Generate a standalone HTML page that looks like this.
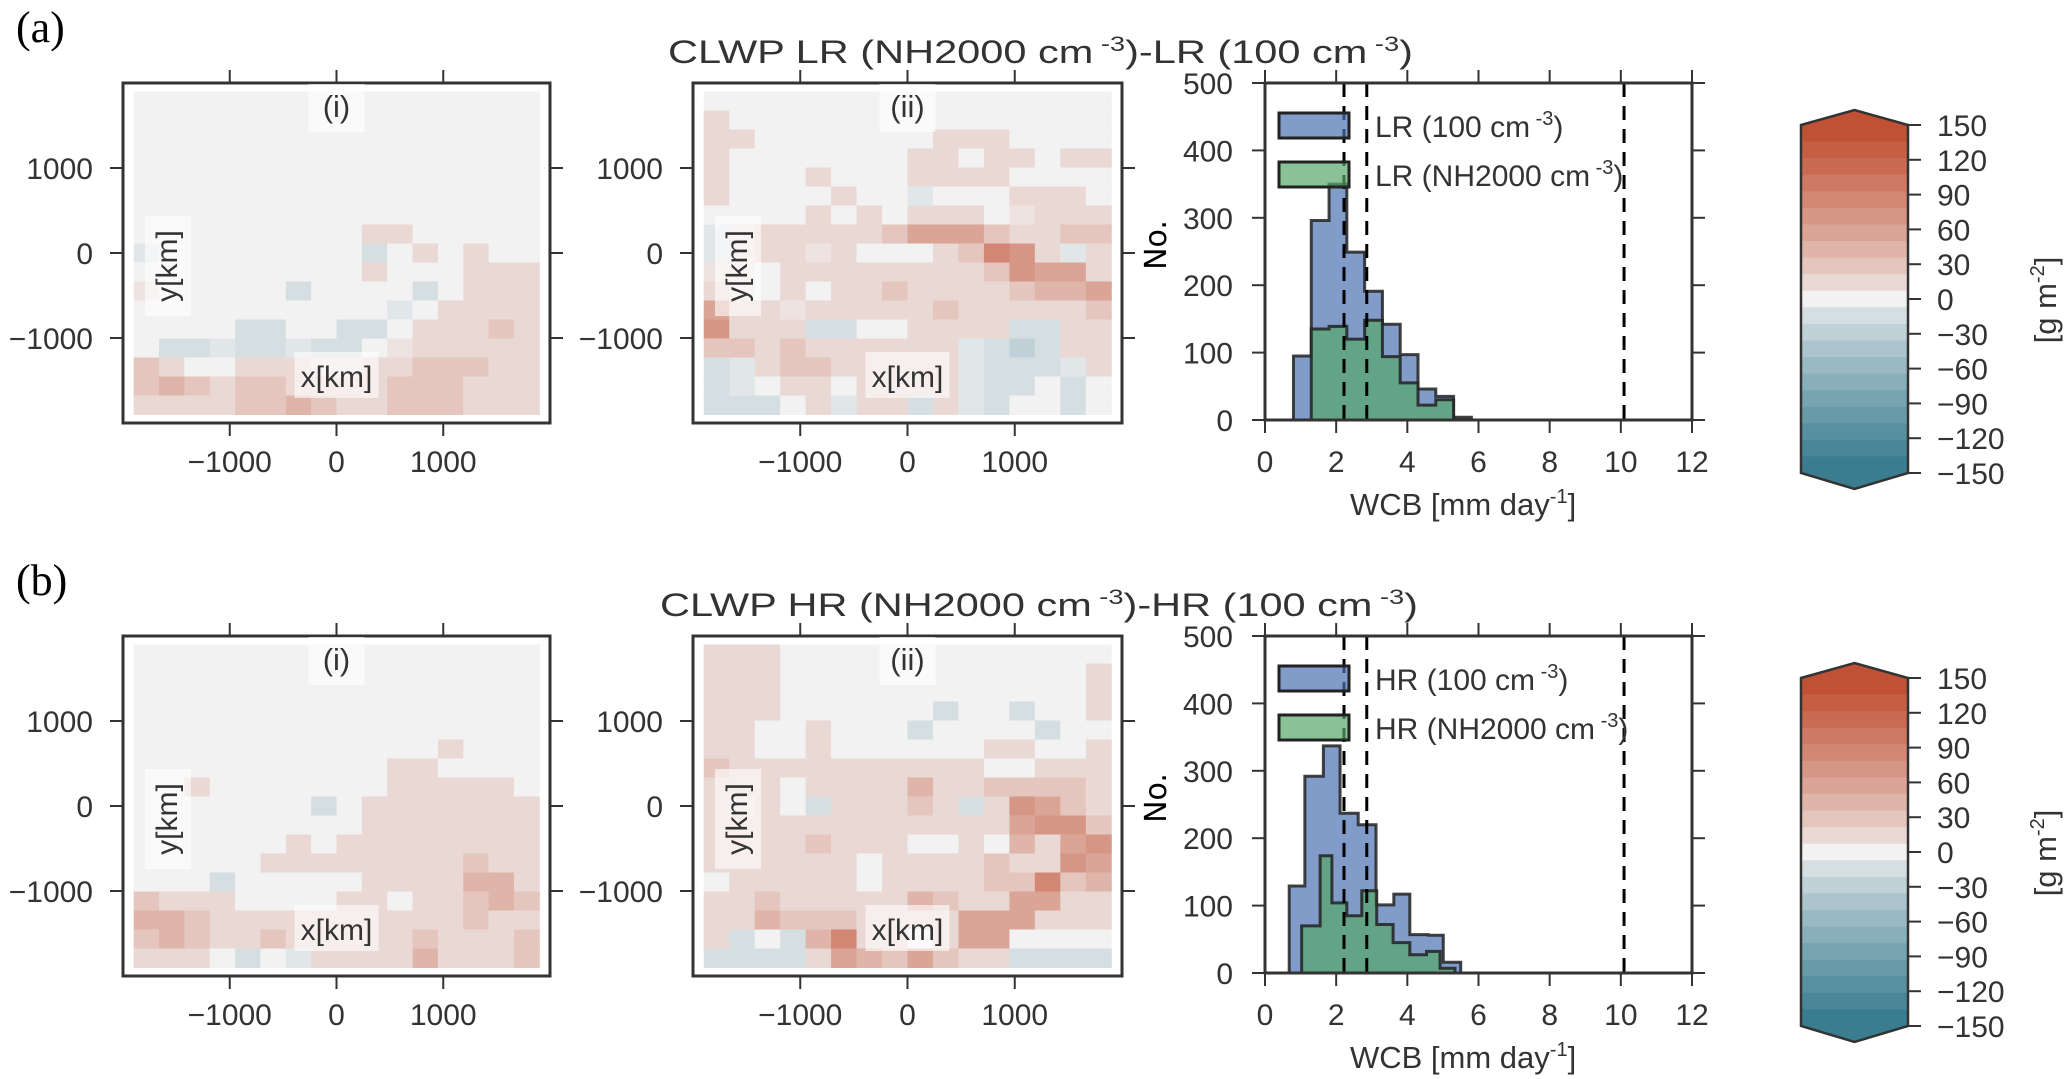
<!DOCTYPE html>
<html><head><meta charset="utf-8"><style>
html,body{margin:0;padding:0;background:#fff;}
svg{display:block;font-family:"Liberation Sans",sans-serif;}
</style></head><body>
<svg id="fig" width="2067" height="1079" viewBox="0 0 2067 1079" xmlns="http://www.w3.org/2000/svg">
<text x="16" y="42" font-family="Liberation Serif" font-size="44" fill="#000">(a)</text>
<text x="16" y="595" font-family="Liberation Serif" font-size="44" fill="#000">(b)</text>
<text x="668" y="63" font-size="32" fill="#333" textLength="745" lengthAdjust="spacingAndGlyphs">CLWP LR (NH2000 cm<tspan font-size="21" dy="-12"> -3</tspan><tspan dy="12">)-LR (100 cm</tspan><tspan font-size="21" dy="-12"> -3</tspan><tspan dy="12">)</tspan></text>
<text x="660" y="616" font-size="32" fill="#333" textLength="758" lengthAdjust="spacingAndGlyphs">CLWP HR (NH2000 cm<tspan font-size="21" dy="-12"> -3</tspan><tspan dy="12">)-HR (100 cm</tspan><tspan font-size="21" dy="-12"> -3</tspan><tspan dy="12">)</tspan></text>
</svg>
<script>
// ---------- data ----------
const mapTicks = [-1000, 0, 1000];
const histXTicks = [0, 2, 4, 6, 8, 10, 12];
const histYTicks = [0, 100, 200, 300, 400, 500];
const cbarTicks = [150, 120, 90, 60, 30, 0, -30, -60, -90, -120, -150];
const dashLines = [0, 2.22, 2.86, 10.09];

const mapAi = [
[0,0,0,0,0,0,0,0,0,0,0,0,0,0,0,0],
[0,0,0,0,0,0,0,0,0,0,0,0,0,0,0,0],
[0,0,0,0,0,0,0,0,0,0,0,0,0,0,0,0],
[0,0,0,0,0,0,0,0,0,0,0,0,0,0,0,0],
[0,0,0,0,0,0,0,0,0,0,0,0,0,0,0,0],
[0,0,0,0,0,0,0,0,0,0,0,0,0,0,0,0],
[0,0,0,0,0,0,0,0,0,0,0,0,0,0,0,0],
[0,0,0,0,0,0,0,0,0,10,10,0,0,0,0,0],
[-5,0,0,0,0,0,0,0,0,-8,0,10,0,8,0,0],
[0,0,0,0,0,0,0,0,0,10,0,0,0,10,10,10],
[5,0,0,0,0,0,-8,0,0,0,0,-8,0,10,20,20],
[0,0,0,0,0,0,0,0,0,0,-5,0,10,20,20,20],
[0,0,0,0,-8,-8,0,0,-8,-8,0,10,10,15,30,20],
[0,-8,-8,-5,-8,-8,-5,-15,-15,0,5,10,10,15,20,20],
[25,10,0,0,10,10,10,5,5,10,15,25,25,25,10,10],
[30,40,30,20,25,25,15,10,10,20,30,30,30,20,20,10],
[20,20,20,20,30,30,45,30,20,20,35,35,35,20,20,10]];
const mapAii = [
[0,0,0,0,0,0,0,0,0,0,0,0,0,0,0,0],
[10,0,0,0,0,0,0,0,0,0,0,0,0,0,0,0],
[10,10,0,0,0,0,0,0,0,8,8,8,0,0,0,0],
[10,0,0,0,0,0,0,0,8,8,0,8,8,0,10,10],
[10,0,0,0,10,0,0,0,8,8,8,8,0,0,0,0],
[8,0,0,0,0,10,0,0,-5,0,0,0,8,8,8,0],
[0,0,0,0,10,0,10,0,10,20,10,0,5,8,8,8],
[-5,5,10,10,10,10,20,25,50,50,60,30,15,15,25,25],
[-5,5,10,10,5,10,0,0,0,10,30,80,70,10,-5,8],
[5,5,0,10,10,10,10,10,10,10,10,30,70,50,50,20],
[10,5,0,10,0,10,20,25,10,10,10,10,30,40,40,50],
[60,10,10,5,10,10,10,10,10,25,10,10,15,15,15,25],
[70,20,10,10,-8,-8,0,0,10,15,10,10,-10,-8,15,20],
[25,35,20,30,20,20,10,10,10,15,-5,-8,-30,-15,10,15],
[-8,-5,20,35,25,10,10,10,10,15,-5,-8,-20,-8,-5,10],
[-8,-5,0,10,10,0,10,8,8,15,-5,-8,-8,0,-8,0],
[-8,-8,-8,0,10,-5,10,10,-8,10,-5,-8,0,0,-8,0]];
const mapBi = [
[0,0,0,0,0,0,0,0,0,0,0,0,0,0,0,0],
[0,0,0,0,0,0,0,0,0,0,0,0,0,0,0,0],
[0,0,0,0,0,0,0,0,0,0,0,0,0,0,0,0],
[0,0,0,0,0,0,0,0,0,0,0,0,0,0,0,0],
[0,0,0,0,0,0,0,0,0,0,0,0,0,0,0,0],
[0,0,0,0,0,0,0,0,0,0,0,0,10,0,0,0],
[0,0,0,0,0,0,0,0,0,0,8,8,0,0,0,0],
[0,0,10,0,0,0,0,0,0,0,8,8,8,8,8,0],
[0,0,0,0,0,0,0,-8,0,8,8,8,8,8,8,8],
[0,0,0,0,0,0,0,0,0,8,8,8,8,8,15,15],
[0,0,0,0,0,0,8,0,8,8,15,15,15,8,15,10],
[0,0,0,0,0,8,8,8,8,8,15,8,15,30,15,10],
[0,0,0,-8,0,0,0,0,0,8,10,15,20,40,40,20],
[30,20,20,10,0,0,0,0,10,10,0,20,20,30,40,30],
[40,40,25,15,15,15,10,10,10,10,15,20,20,30,20,15],
[25,40,25,10,10,25,10,10,10,10,15,25,20,20,8,30],
[20,20,10,0,-8,0,-5,10,15,15,15,45,20,10,10,25]];
const mapBii = [
[10,10,10,0,0,0,0,0,0,0,0,0,0,0,0,0],
[10,10,10,0,0,0,0,0,0,0,0,0,0,0,0,10],
[10,15,10,0,0,0,0,0,0,0,0,0,0,0,0,10],
[15,15,10,0,0,0,0,0,0,-8,0,0,-8,0,0,8],
[15,15,0,0,10,0,0,0,-8,0,0,0,0,-8,0,0],
[15,10,0,0,10,0,0,0,0,0,0,10,10,0,0,10],
[25,10,10,10,10,10,10,10,20,20,10,0,0,10,10,15],
[20,10,10,0,10,15,15,15,40,20,10,30,30,25,25,15],
[10,5,10,0,-8,10,15,15,30,20,-8,10,70,50,25,20],
[10,10,15,15,15,10,10,15,15,10,10,10,50,70,70,35],
[10,10,20,15,25,15,10,15,0,0,15,0,40,20,50,70],
[10,10,20,20,15,10,0,10,10,15,20,30,8,20,70,50],
[0,15,15,15,10,10,0,15,20,15,10,25,30,85,30,40],
[10,20,35,10,10,15,15,20,45,30,15,20,50,50,20,15],
[15,20,40,25,25,25,20,20,20,15,55,55,60,10,20,15],
[10,-8,0,-8,40,80,20,20,0,15,60,60,0,0,0,0],
[-20,-8,-8,-8,20,60,45,30,60,30,20,20,-8,-8,-8,-20]];

const histAEdgesBlue = [0.8,1.3,1.8,2.3,2.8,3.3,3.8,4.3,4.8,5.3,5.8];
const histACountBlue = [95,296,350,249,191,142,97,46,35,4];
const histAEdgesGreen = [1.3,1.8,2.3,2.8,3.3,3.8,4.3,4.8,5.3];
const histACountGreen = [135,139,120,148,94,55,22,30];
const histBEdgesBlue = [0.68,1.12,1.64,2.11,2.62,3.12,3.62,4.07,4.59,5.01,5.5];
const histBCountBlue = [129,292,337,237,220,101,117,57,56,16];
const histBEdgesGreen = [1.03,1.55,1.88,2.3,2.72,3.14,3.6,4.07,4.54,4.92,5.34];
const histBCountGreen = [70,174,104,85,122,72,45,27,32,7];

// ---------- helpers ----------
const NS = "http://www.w3.org/2000/svg";
const svg = document.getElementById('fig');
function mk(tag, attrs, parent) {
  const e = document.createElementNS(NS, tag);
  for (const k in attrs) e.setAttribute(k, attrs[k]);
  (parent || svg).appendChild(e);
  return e;
}
const RED = [193, 81, 52], MID = [242, 242, 242], BLUE = [59, 125, 144];
const NB = 21, BW = 300 / NB;
function bandColor(idx) {
  const t = Math.min(1, Math.abs(idx) / 10);
  const end = idx >= 0 ? RED : BLUE;
  const c = MID.map((m, i) => Math.round(m + (end[i] - m) * Math.pow(t, 0.8)));
  return `rgb(${c[0]},${c[1]},${c[2]})`;
}
function valColor(v) {
  let idx = Math.round(v / BW);
  idx = Math.max(-10, Math.min(10, idx));
  if (v > 4 && idx === 0) idx = 0.5;
  if (v < -4 && idx === 0) idx = -0.5;
  return bandColor(idx);
}
const DARK = '#333';

function heatmap(data, x0, x1, y0, y1, oy, name, label) {
  const g = mk('g', {});
  
  
  const cx = (x0 + x1) / 2, cy = 253 + oy;
  const sx = (x1 - x0) / 4000, sy = (y1 - y0) / 4000;
  const X = km => cx + km * sx, Y = km => cy - km * sy;
  const rows = data.length, cols = data[0].length;
  const cw = 3800 / cols, ch = 3800 / rows;
  for (let r = 0; r < rows; r++) for (let c = 0; c < cols; c++) {
    const kx = -1900 + c * cw, ky = 1900 - r * ch;
    const rc = mk('rect', {x: X(kx), y: Y(ky), width: X(kx + cw) - X(kx) + 0.5, height: Y(ky - ch) - Y(ky) + 0.5, fill: valColor(data[r][c])}, g);
    
    
  }
  const fr = mk('rect', {x: x0, y: y0 + oy, width: x1 - x0, height: y1 - y0, fill: 'none', stroke: DARK, 'stroke-width': 3}, g);
  
  
  mapTicks.forEach(t => {
    mk('line', {x1: X(t), x2: X(t), y1: y0 + oy, y2: y0 + oy - 13, stroke: DARK, 'stroke-width': 2}, g);
    mk('line', {x1: X(t), x2: X(t), y1: y1 + oy, y2: y1 + oy + 13, stroke: DARK, 'stroke-width': 2}, g);
    mk('line', {x1: x0, x2: x0 - 13, y1: Y(t), y2: Y(t), stroke: DARK, 'stroke-width': 2}, g);
    mk('line', {x1: x1, x2: x1 + 13, y1: Y(t), y2: Y(t), stroke: DARK, 'stroke-width': 2}, g);
    const xl = mk('text', {x: X(t), y: 472 + oy, 'font-size': 30, fill: DARK, 'text-anchor': 'middle'}, g);
    xl.textContent = t === 0 ? '0' : (t < 0 ? '\u2212' + Math.abs(t) : String(t));
    
    
    const yl = mk('text', {x: x0 - 30, y: Y(t) + 11, 'font-size': 30, fill: DARK, 'text-anchor': 'end'}, g);
    yl.textContent = t === 0 ? '0' : (t < 0 ? '\u2212' + Math.abs(t) : String(t));
    
    
  });
  mk('rect', {x: cx - 28, y: 84 + oy, width: 56, height: 48, fill: '#fff', opacity: 0.6}, g);
  const sl = mk('text', {x: cx, y: 117 + oy, 'font-size': 31, fill: DARK, 'text-anchor': 'middle'}, g);
  sl.textContent = label;
  
  
  mk('rect', {x: x0 + 22, y: 216 + oy, width: 46, height: 100, fill: '#fff', opacity: 0.6}, g);
  const yt = mk('text', {x: 0, y: 0, 'font-size': 30, fill: DARK, 'text-anchor': 'middle', transform: `translate(${x0 + 54},${266 + oy}) rotate(-90)`}, g);
  yt.textContent = 'y[km]';
  
  
  mk('rect', {x: cx - 42, y: 352 + oy, width: 84, height: 46, fill: '#fff', opacity: 0.6}, g);
  const xt = mk('text', {x: cx, y: 387 + oy, 'font-size': 30, fill: DARK, 'text-anchor': 'middle'}, g);
  xt.textContent = 'x[km]';
  
  
}

function stepPath(edges, counts, X, Y) {
  let d = `M${X(edges[0])},${Y(0)}`;
  counts.forEach((c, i) => { d += ` L${X(edges[i])},${Y(c)} L${X(edges[i + 1])},${Y(c)}`; });
  d += ` L${X(edges[edges.length - 1])},${Y(0)} Z`;
  return d;
}

function histogram(oy, eb, cb, eg, cg, prefix, name) {
  const g = mk('g', {});
  
  
  const x0 = 1265, x1 = 1692, y0 = 83 + oy, y1 = 420 + oy;
  const X = v => x0 + v * (x1 - x0) / 12, Y = v => y1 - v * (y1 - y0) / 500;
  const pb = mk('path', {d: stepPath(eb, cb, X, Y), fill: '#4c72b0', 'fill-opacity': 0.7, stroke: '#222', 'stroke-width': 3, 'stroke-opacity': 0.85}, g);
  
  
  const pg = mk('path', {d: stepPath(eg, cg, X, Y), fill: '#55a868', 'fill-opacity': 0.7, stroke: '#222', 'stroke-width': 3, 'stroke-opacity': 0.85}, g);
  
  
  mk('line', {x1: x0, x2: X(12), y1: y1, y2: y1, stroke: '#222', 'stroke-width': 3}, g);
  dashLines.forEach(v => {
    const l = mk('line', {x1: X(v), x2: X(v), y1: y0, y2: y1, stroke: '#000', 'stroke-width': 3, 'stroke-dasharray': '14,9'}, g);
    
    
  });
  const fr = mk('rect', {x: x0, y: y0, width: x1 - x0, height: y1 - y0, fill: 'none', stroke: DARK, 'stroke-width': 3}, g);
  
  
  histXTicks.forEach(t => {
    mk('line', {x1: X(t), x2: X(t), y1: y1, y2: y1 + 13, stroke: DARK, 'stroke-width': 2}, g);
    mk('line', {x1: X(t), x2: X(t), y1: y0, y2: y0 - 13, stroke: DARK, 'stroke-width': 2}, g);
    const tl = mk('text', {x: X(t), y: 472 + oy, 'font-size': 30, fill: DARK, 'text-anchor': 'middle'}, g);
    tl.textContent = String(t);
    
    
  });
  histYTicks.forEach(t => {
    mk('line', {x1: x0, x2: x0 - 13, y1: Y(t), y2: Y(t), stroke: DARK, 'stroke-width': 2}, g);
    mk('line', {x1: x1, x2: x1 + 13, y1: Y(t), y2: Y(t), stroke: DARK, 'stroke-width': 2}, g);
    const tl = mk('text', {x: 1233, y: Y(t) + 11, 'font-size': 30, fill: DARK, 'text-anchor': 'end'}, g);
    tl.textContent = String(t);
    
    
  });
  const yl = mk('text', {x: 0, y: 0, 'font-size': 30, fill: '#000', 'font-family': 'DejaVu Sans', 'text-anchor': 'middle', transform: `translate(${1166},${245 + oy}) rotate(-90)`}, g);
  yl.textContent = 'No.';
  
  
  const xl = mk('text', {x: 1350, y: 515 + oy, 'font-size': 31, fill: DARK}, g);
  xl.innerHTML = 'WCB [mm day<tspan font-size="20" dy="-12">-1</tspan><tspan dy="12">]</tspan>';
  
  
  const lb = mk('rect', {x: 1279, y: 113 + oy, width: 70, height: 25, fill: '#4c72b0', 'fill-opacity': 0.7, stroke: '#222', 'stroke-width': 3}, g);
  
  
  const lg = mk('rect', {x: 1279, y: 162 + oy, width: 70, height: 25, fill: '#55a868', 'fill-opacity': 0.7, stroke: '#222', 'stroke-width': 3}, g);
  
  
  const t1 = mk('text', {x: 1375, y: 137 + oy, 'font-size': 30, fill: DARK}, g);
  t1.innerHTML = prefix + ' (100 cm<tspan font-size="20" dy="-12"> -3</tspan><tspan dy="12">)</tspan>';
  
  
  const t2 = mk('text', {x: 1375, y: 186 + oy, 'font-size': 30, fill: DARK}, g);
  t2.innerHTML = prefix + ' (NH2000 cm<tspan font-size="20" dy="-12"> -3</tspan><tspan dy="12">)</tspan>';
  
  
}

function colorbar(oy, name) {
  const g = mk('g', {});
  
  
  const x0 = 1801, x1 = 1908, yt = 125 + oy, yb = 473 + oy;
  const Y = v => yt + (150 - v) * (yb - yt) / 300;
  const bh = (yb - yt) / NB;
  for (let i = 0; i < NB; i++) {
    const r = mk('rect', {x: x0, y: yt + i * bh, width: x1 - x0, height: bh + 0.6, fill: bandColor(10 - i)}, g);
    
    
  }
  mk('path', {d: `M${x0},${yt} L${(x0 + x1) / 2},${yt - 15} L${x1},${yt} Z`, fill: bandColor(10)}, g);
  mk('path', {d: `M${x0},${yb} L${(x0 + x1) / 2},${yb + 16} L${x1},${yb} Z`, fill: bandColor(-10)}, g);
  mk('path', {d: `M${x0},${yt} L${(x0 + x1) / 2},${yt - 15} L${x1},${yt} L${x1},${yb} L${(x0 + x1) / 2},${yb + 16} L${x0},${yb} Z`, fill: 'none', stroke: DARK, 'stroke-width': 2.5}, g);
  cbarTicks.forEach(t => {
    mk('line', {x1: x1, x2: x1 + 13, y1: Y(t), y2: Y(t), stroke: DARK, 'stroke-width': 2}, g);
    const tl = mk('text', {x: 1937, y: Y(t) + 11, 'font-size': 30, fill: DARK}, g);
    tl.textContent = t < 0 ? '\u2212' + Math.abs(t) : String(t);
    
    
  });
  const lab = mk('text', {x: 0, y: 0, 'font-size': 31, fill: DARK, 'text-anchor': 'middle', transform: `translate(${2056},${300 + oy}) rotate(-90)`}, g);
  lab.innerHTML = '[g m<tspan font-size="20" dy="-12">-2</tspan><tspan dy="12">]</tspan>';
  
  
}

const OB = 553;
heatmap(mapAi, 123, 550, 83, 423, 0, 'map-a-i', '(i)');
heatmap(mapAii, 693, 1122, 83, 423, 0, 'map-a-ii', '(ii)');
heatmap(mapBi, 123, 550, 83, 423, OB, 'map-b-i', '(i)');
heatmap(mapBii, 693, 1122, 83, 423, OB, 'map-b-ii', '(ii)');
histogram(0, histAEdgesBlue, histACountBlue, histAEdgesGreen, histACountGreen, 'LR', 'histogram-a');
histogram(OB, histBEdgesBlue, histBCountBlue, histBEdgesGreen, histBCountGreen, 'HR', 'histogram-b');
colorbar(0, 'colorbar-a');
colorbar(OB, 'colorbar-b');
</script>
</body></html>
